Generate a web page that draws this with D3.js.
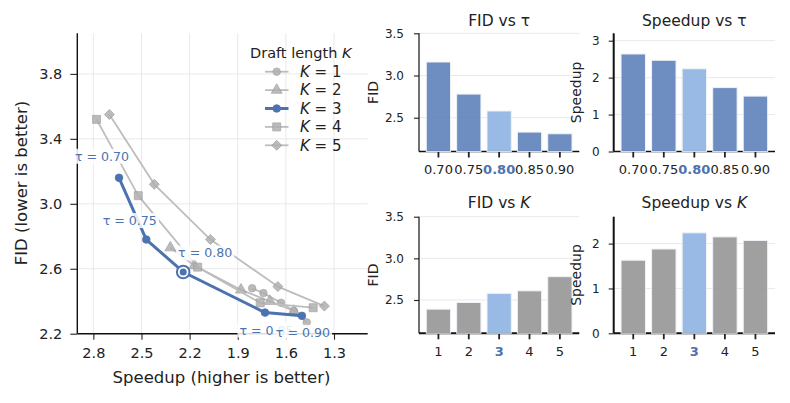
<!DOCTYPE html>
<html>
<head>
<meta charset="utf-8">
<script src="https://cdn.jsdelivr.net/npm/d3@7"></script>
<style>
  body { margin: 0; background: #fff; }
  svg, svg text { font-family: "DejaVu Sans", sans-serif; }
</style>
</head>
<body>
<div id="app"></div>
<script>
// 数据：每个 K 在 5 个 tau 下的 (speedup, FID)
const taus = ["0.70", "0.75", "0.80", "0.85", "0.90"];
const draftK = ["1", "2", "3", "4", "5"];
const speedK1 = [1.81, 1.74, 1.63, 1.55, 1.47];
const fidK1   = [2.48, 2.45, 2.39, 2.34, 2.27];
const speedK2 = [2.32, 2.17, 1.88, 1.70, 1.55];
const fidK2   = [2.73, 2.62, 2.47, 2.40, 2.34];
const speedK3 = [2.64, 2.47, 2.24, 1.73, 1.50];
const fidK3   = [3.16, 2.78, 2.58, 2.33, 2.31];
const speedK4 = [2.78, 2.52, 2.15, 1.76, 1.43];
const fidK4   = [3.52, 3.05, 2.61, 2.39, 2.36];
const speedK5 = [2.70, 2.42, 2.07, 1.65, 1.36];
const fidK5   = [3.55, 3.12, 2.78, 2.49, 2.37];
const xTicksLeft = [2.8, 2.5, 2.2, 1.9, 1.6, 1.3];
const yTicksLeft = [2.2, 2.6, 3.0, 3.4, 3.8];
const fidTicks = [2.5, 3.0, 3.5];
const speedTauTicks = [0, 1, 2, 3];
const speedKTicks = [0, 1, 2];
const selTau = 2;   // tau = 0.80
const selK = 2;     // K = 3

// tau=0.80 时各 K 的值
const fidVsK = [fidK1[selTau], fidK2[selTau], fidK3[selTau], fidK4[selTau], fidK5[selTau]];
const speedVsK = [speedK1[selTau], speedK2[selTau], speedK3[selTau], speedK4[selTau], speedK5[selTau]];

const BLUE = "#4C72B0";
const FONT = "DejaVu Sans";
const W = 790, H = 403;

var svg = d3.select("#app").append("svg").attr("width", W).attr("height", H);
svg.append("rect").attr("width", W).attr("height", H).attr("fill", "#fff");

function styleAxis(g, size) {
  g.attr("font-family", FONT);
  g.select(".domain").remove();
  g.selectAll(".tick line").attr("stroke", "#222").attr("stroke-width", 1.1);
  g.selectAll(".tick text").attr("fill", "#222").style("font-size", size + "px");
}

// ---------------- 左图 ----------------
const L = { left: 77.3, right: 367.7, top: 33.3, bottom: 333.7 };
const x = d3.scaleLinear().domain([2.9, 1.09]).range([L.left, L.right]);
const y = d3.scaleLinear().domain([2.2, 4.05]).range([L.bottom, L.top]);

var left = svg.append("g");
// 网格
left.selectAll(".vg").data(xTicksLeft).enter().append("line")
  .attr("x1", d => x(d)).attr("x2", d => x(d)).attr("y1", L.top).attr("y2", L.bottom)
  .attr("stroke", "#e6e6e6").attr("stroke-width", 0.9);
left.selectAll(".hg").data(yTicksLeft).enter().append("line")
  .attr("x1", L.left).attr("x2", L.right).attr("y1", d => y(d)).attr("y2", d => y(d))
  .attr("stroke", "#e6e6e6").attr("stroke-width", 0.9);

var gx = left.append("g").attr("transform", `translate(0,${L.bottom})`)
  .call(d3.axisBottom(x).tickValues(xTicksLeft).tickFormat(d3.format(".1f")).tickSize(6).tickPadding(8));
styleAxis(gx, 14.5);
var gy = left.append("g").attr("transform", `translate(${L.left},0)`)
  .call(d3.axisLeft(y).tickValues(yTicksLeft).tickFormat(d3.format(".1f")).tickSize(7).tickPadding(8));
styleAxis(gy, 14.5);
left.append("line").attr("x1", L.left).attr("x2", L.right).attr("y1", L.bottom).attr("y2", L.bottom)
  .attr("stroke", "#111").attr("stroke-width", 1.4);
left.append("line").attr("x1", L.left).attr("x2", L.left).attr("y1", L.top).attr("y2", L.bottom)
  .attr("stroke", "#111").attr("stroke-width", 1.4);

left.append("text").attr("x", (L.left + L.right) / 2 - 1).attr("y", 383)
  .attr("text-anchor", "middle").style("font-size", "16.5px").attr("fill", "#222")
  .text("Speedup (higher is better)");
left.append("text").attr("transform", "translate(27,183) rotate(-90)")
  .attr("text-anchor", "middle").style("font-size", "16.5px").attr("fill", "#222")
  .text("FID (lower is better)");

const series = [
  { k: "1", sp: speedK1, fid: fidK1, sym: d3.symbolCircle, size: 44, rot: 0 },
  { k: "2", sp: speedK2, fid: fidK2, sym: d3.symbolTriangle, size: 52, rot: 0 },
  { k: "3", sp: speedK3, fid: fidK3, sym: d3.symbolCircle, size: 46, rot: 0 },
  { k: "4", sp: speedK4, fid: fidK4, sym: d3.symbolSquare, size: 64, rot: 0 },
  { k: "5", sp: speedK5, fid: fidK5, sym: d3.symbolSquare, size: 50, rot: 45 }
];

var line = d3.line().x(d => x(d[0])).y(d => y(d[1]));

function drawSeries(s) {
  var pts = s.sp.map((v, i) => [v, s.fid[i]]);
  var isMain = s.k === "3";
  var g = left.append("g");
  g.append("path").datum(pts).attr("d", line).attr("fill", "none")
    .attr("stroke", isMain ? BLUE : "#bdbdbd")
    .attr("stroke-width", isMain ? 3 : 1.8)
    .attr("stroke-linejoin", "round");
  g.selectAll("path.m").data(pts).enter().append("path").attr("class", "m")
    .attr("transform", d => `translate(${x(d[0])},${y(d[1])}) rotate(${s.rot})`)
    .attr("d", d3.symbol().type(s.sym).size(s.size))
    .attr("fill", isMain ? BLUE : "#b0b0b0")
    .attr("stroke", isMain ? BLUE : "#9c9c9c")
    .attr("stroke-width", 0.8)
    .attr("opacity", isMain ? 1 : 0.85);
}
series.filter(s => s.k !== "3").forEach(drawSeries);
drawSeries(series[2]);

// 选中点 (tau=0.80, K=3)
left.append("circle").attr("cx", x(speedK3[selTau])).attr("cy", y(fidK3[selTau])).attr("r", 6.3)
  .attr("fill", "#fff").attr("stroke", BLUE).attr("stroke-width", 2);
left.append("circle").attr("cx", x(speedK3[selTau])).attr("cy", y(fidK3[selTau])).attr("r", 3.5)
  .attr("fill", BLUE);

// tau 标注
const labelOffsets = [[-17, -21.5], [-16.5, -19], [22, -19], [1.5, 17.5], [1, 16.5]];
taus.forEach(function (t, i) {
  var cx = x(speedK3[i]) + labelOffsets[i][0];
  var cy = y(fidK3[i]) + labelOffsets[i][1];
  var g = left.append("g");
  var txt = g.append("text").attr("x", cx).attr("y", cy + 4.5)
    .attr("text-anchor", "middle").style("font-size", "12.6px").attr("fill", BLUE)
    .text("τ = " + t);
  var bb = txt.node().getBBox();
  g.insert("rect", "text").attr("x", bb.x - 2).attr("y", bb.y).attr("width", bb.width + 4)
    .attr("height", bb.height).attr("fill", "#fff").attr("opacity", 0.85);
});

// 图例
var lg = left.append("g");
var lt = lg.append("text").attr("x", 250).attr("y", 57.5).style("font-size", "14.5px").attr("fill", "#222");
lt.append("tspan").text("Draft length ");
lt.append("tspan").attr("font-style", "italic").text("K");
series.forEach(function (s, i) {
  var yy = 71.7 + i * 18.4;
  var isMain = s.k === "3";
  lg.append("line").attr("x1", 265).attr("x2", 288.5).attr("y1", yy).attr("y2", yy)
    .attr("stroke", isMain ? BLUE : "#bdbdbd").attr("stroke-width", isMain ? 3 : 1.8);
  lg.append("path").attr("transform", `translate(276.7,${yy}) rotate(${s.rot})`)
    .attr("d", d3.symbol().type(s.sym).size(s.size))
    .attr("fill", isMain ? BLUE : "#b0b0b0").attr("stroke", isMain ? BLUE : "#9c9c9c")
    .attr("stroke-width", 0.8).attr("opacity", isMain ? 1 : 0.85);
  var t = lg.append("text").attr("x", 300).attr("y", yy + 5.3).style("font-size", "15px").attr("fill", "#222");
  t.append("tspan").attr("font-style", "italic").text("K");
  t.append("tspan").text(" = " + s.k);
});

// ---------------- 右侧四个柱状图 ----------------
function barPanel(p) {
  var g = svg.append("g");
  var xs = d3.scaleBand().domain(d3.range(p.values.length))
    .range([p.left, p.right]).paddingInner(0.2).paddingOuter(0.24);
  var ys = d3.scaleLinear().domain(p.domain).range([p.bottom, p.top]);

  g.selectAll(".grid").data(p.ticks).enter().append("line")
    .attr("x1", p.left).attr("x2", p.right).attr("y1", d => ys(d)).attr("y2", d => ys(d))
    .attr("stroke", "#e6e6e6").attr("stroke-width", 0.9);

  var ax = g.append("g").attr("transform", `translate(0,${p.bottom})`)
    .call(d3.axisBottom(xs).tickFormat(i => p.labels[i]).tickSize(6).tickPadding(7));
  styleAxis(ax, 13);
  ax.selectAll(".tick line").attr("stroke-width", 1.8);
  ax.selectAll(".tick text")
    .attr("fill", i => i === p.sel ? BLUE : "#222")
    .attr("font-weight", i => i === p.sel ? "bold" : "normal");

  var ay = g.append("g").attr("transform", `translate(${p.left},0)`)
    .call(d3.axisLeft(ys).tickValues(p.ticks).tickFormat(p.fmt).tickSize(5).tickPadding(p.pad));
  styleAxis(ay, 12);

  g.append("line").attr("x1", p.left).attr("x2", p.left).attr("y1", p.top).attr("y2", p.bottom)
    .attr("stroke", "#111").attr("stroke-width", p.spineW);
  g.append("line").attr("x1", p.left).attr("x2", p.right).attr("y1", p.bottom).attr("y2", p.bottom)
    .attr("stroke", "#111").attr("stroke-width", p.baseW);

  g.selectAll("rect").data(p.values).enter().append("rect")
    .attr("x", (d, i) => xs(i)).attr("width", xs.bandwidth())
    .attr("y", d => ys(d)).attr("height", d => p.bottom - ys(d))
    .attr("fill", (d, i) => i === p.sel ? "#8fb3e2" : p.color)
    .attr("opacity", 0.9)
    .attr("stroke", "#eef2f8").attr("stroke-width", 1);

  var tt = g.append("text").attr("x", (p.left + p.right) / 2).attr("y", p.titleY)
    .attr("text-anchor", "middle").style("font-size", "15.5px").attr("fill", "#222");
  tt.append("tspan").text(p.title);
  tt.append("tspan").attr("font-style", p.sym === "K" ? "italic" : "normal").text(p.sym);

  g.append("text").attr("transform", `translate(${p.ylx},${(p.top + p.bottom) / 2}) rotate(-90)`)
    .attr("text-anchor", "middle").style("font-size", "14px").attr("fill", "#222")
    .text(p.ylabel);
}

barPanel({ values: fidK3, labels: taus, sel: selTau, domain: [2.1, 3.5], ticks: fidTicks,
  fmt: d3.format(".1f"), left: 419, right: 579.3, top: 33.3, bottom: 151.5, color: "#5f81ba",
  title: "FID vs ", sym: "τ", titleY: 26, ylabel: "FID", ylx: 378, pad: 10, spineW: 1.2, baseW: 1.3 });
barPanel({ values: speedK3, labels: taus, sel: selTau, domain: [0, 3.2], ticks: speedTauTicks,
  fmt: d3.format("d"), left: 613.7, right: 775, top: 33.3, bottom: 151.5, color: "#5f81ba",
  title: "Speedup vs ", sym: "τ", titleY: 26, ylabel: "Speedup", ylx: 581, pad: 9, spineW: 2, baseW: 1.3 });
barPanel({ values: fidVsK, labels: draftK, sel: selK, domain: [2.1, 3.5], ticks: fidTicks,
  fmt: d3.format(".1f"), left: 419, right: 579.3, top: 216.7, bottom: 333.3, color: "#969696",
  title: "FID vs ", sym: "K", titleY: 207.5, ylabel: "FID", ylx: 378, pad: 10, spineW: 1.2, baseW: 2 });
barPanel({ values: speedVsK, labels: draftK, sel: selK, domain: [0, 2.6], ticks: speedKTicks,
  fmt: d3.format("d"), left: 613.7, right: 775, top: 216.7, bottom: 333.3, color: "#969696",
  title: "Speedup vs ", sym: "K", titleY: 207.5, ylabel: "Speedup", ylx: 581, pad: 9, spineW: 2, baseW: 2 });
</script>
</body>
</html>
